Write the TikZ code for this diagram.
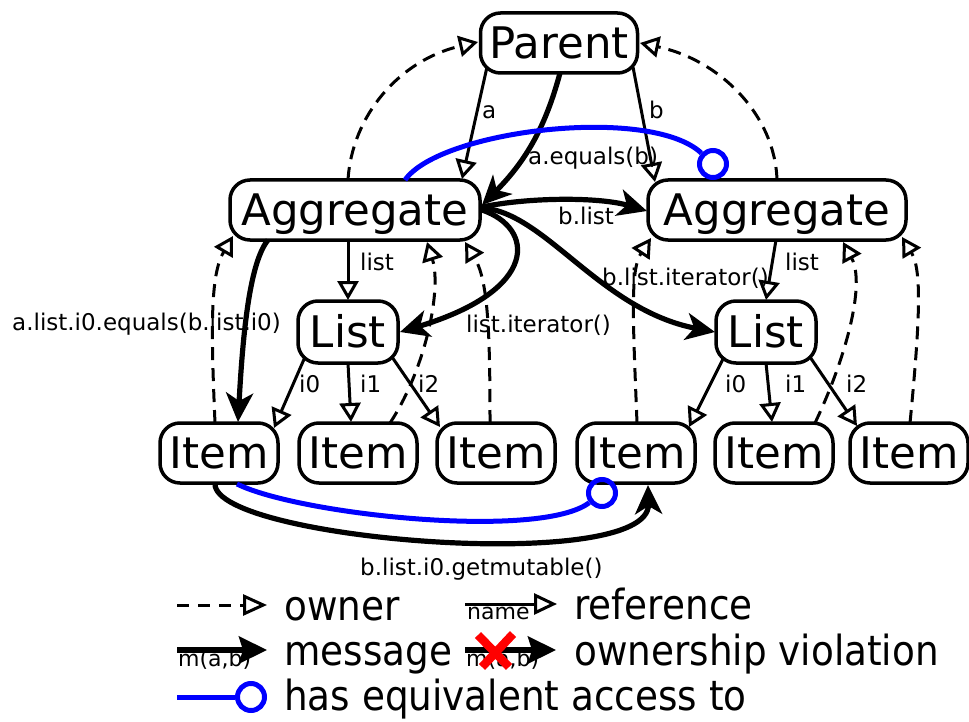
\documentclass[tikz,border=0pt]{standalone}
\usepackage{fontspec}
\setmainfont{DejaVu Sans}
\usetikzlibrary{arrows.meta,calc}

\newcommand\objfont{\fontsize{43.5}{50}\selectfont}
\newcommand\lblfont{\fontsize{23}{27}\selectfont}
\newcommand\smallfont{\fontsize{22}{26}\selectfont}
\newcommand\legfont{\fontsize{41.5}{46}\selectfont}
\newcommand\legtext[1]{\scalebox{0.9}[1]{#1}}

\tikzset{
  obj/.style={draw, line width=3.5pt, fill=white, rounded corners=20pt,
    minimum height=60pt, inner sep=0pt, text height=31pt, text depth=0pt,
    font=\objfont},
  itembox/.style={obj, minimum width=118pt},
  listbox/.style={obj, minimum width=100pt, minimum height=62pt},
  ref/.style={line width=3pt, -{Triangle[open,length=19pt,width=21pt]}},
  own/.style={line width=3pt, dash pattern=on 13pt off 8pt,
    -{Triangle[open,length=19pt,width=21pt]}},
  msg/.style={line width=5.2pt, -{Stealth[length=29pt,width=27pt,inset=8pt]}},
  equiv/.style={line width=5pt, draw=blue},
  eqend/.style={circle, draw=blue, line width=5pt, minimum size=27pt, inner sep=0pt},
  lbl/.style={font=\lblfont, inner sep=0pt, anchor=base west},
  leg/.style={font=\legfont, inner sep=0pt, anchor=base west},
}

\begin{document}
\begin{tikzpicture}[x=1pt,y=-1pt]
\useasboundingbox (0,0) rectangle (969,722);

% objects
\node[obj, minimum width=157pt] (Parent) at (559,43) {Parent};
\node[obj, minimum width=250pt] (AggL) at (355,210) {Aggregate};
\node[obj, minimum width=258pt] (AggR) at (777,210) {Aggregate};
\node[listbox] (ListL) at (348,332) {List};
\node[listbox] (ListR) at (766,332) {List};
\node[itembox] (Item1) at (219,453) {Item};
\node[itembox] (Item2) at (358,453) {Item};
\node[itembox] (Item3) at (496,453) {Item};
\node[itembox] (Item4) at (636,453) {Item};
\node[itembox] (Item5) at (774,453) {Item};
\node[itembox] (Item6) at (909,453) {Item};

% equivalence markers
\node[eqend] (eqA) at (713,164) {};
\node[eqend] (eqB) at (602,493) {};

% references
\draw[ref] ($(Parent)+(-72,24)$) -- ($(AggL)+(107,-31)$);
\draw[ref] ($(Parent)+(74,24)$) -- ($(AggR)+(-122,-28)$);
\draw[ref] ($(AggL)+(-7,30)$) -- ($(ListL)+(0,-32)$);
\draw[ref] ($(AggR)+(-1,30)$) -- ($(ListR)+(0,-32)$);
\draw[ref] ($(ListL)+(-43,25)$) -- ($(Item1)+(55,-25)$);
\draw[ref] ($(ListL)+(0,31)$) -- ($(Item2)+(-7,-31)$);
\draw[ref] ($(ListL)+(44,25)$) -- ($(Item3)+(-56,-26)$);
\draw[ref] ($(ListR)+(-42,25)$) -- ($(Item4)+(53,-26)$);
\draw[ref] ($(ListR)+(0,31)$) -- ($(Item5)+(-2,-31)$);
\draw[ref] ($(ListR)+(44,25)$) -- ($(Item6)+(-52,-27)$);

% owners
\draw[own] ($(AggL)+(-7,-30)$) .. controls (352,115) and (400,60) .. ($(Parent)+(-81,-1)$);
\draw[own] ($(AggR)+(0,-30)$) .. controls (775,115) and (720,60) .. ($(Parent)+(81,0)$);
\draw[own] ($(Item1)+(-4,-30)$) .. controls (211,330) and (210,275) .. ($(AggL)+(-122,26)$);
\draw[own] ($(Item2)+(32,-30)$) .. controls (425,370) and (442,290) .. ($(AggL)+(72,32)$);
\draw[own] ($(Item3)+(-6,-30)$) .. controls (490,330) and (488,280) .. ($(AggL)+(110,32)$);
\draw[own] ($(Item4)+(1,-30)$) .. controls (633,320) and (630,270) .. ($(AggR)+(-126,28)$);
\draw[own] ($(Item5)+(41,-30)$) .. controls (845,360) and (866,285) .. ($(AggR)+(66,32)$);
\draw[own] ($(Item6)+(1,-30)$) .. controls (920,320) and (922,270) .. ($(AggR)+(125,27)$);

% messages
\draw[msg] ($(Parent)+(1,30)$) .. controls (546,125) and (527,160) .. ($(AggL)+(127,-5)$);
\draw[msg] ($(AggL)+(127,-3)$) .. controls (530,197) and (600,197) .. ($(AggR)+(-130,1)$);
\draw[msg] ($(AggL)+(127,0)$) .. controls (535,228) and (540,290) .. ($(ListL)+(52,0)$);
\draw[msg] ($(AggL)+(127,-2)$) .. controls (545,212) and (600,310) .. ($(ListR)+(-51,0)$);
\draw[msg] ($(AggL)+(-87,30)$) .. controls (250,262) and (243,330) .. ($(Item1)+(19,-31)$);
\draw[msg] ($(Item1)+(-4,31)$) .. controls (215,540) and (650,575) .. ($(Item4)+(12,32)$);

% equivalent access
\draw[equiv] ($(AggL)+(50,-30)$) .. controls (440,130) and (650,105) .. (eqA);
\draw[equiv] ($(Item1)+(18,31)$) .. controls (300,515) and (540,540) .. (eqB);

% edge labels
\node[lbl] (la) at (482,119) {a};
\node[lbl] (lb) at (649,119) {b};
\node[lbl] (laeq) at (528,165) {a.equals(b)};
\node[lbl] (lblist) at (558,225) {b.list};
\node[lbl] (llistL) at (360,270) {list};
\node[lbl] (llistR) at (785,270) {list};
\node[lbl] (li0eq) at (12,330) {a.list.i0.equals(b.list.i0)};
\node[lbl] (liter) at (466,332) {list.iterator()};
\node[lbl] (lbiter) at (602,285) {b.list.iterator()};
\node[lbl] (li0L) at (299,392) {i0};
\node[lbl] (li1L) at (360,392) {i1};
\node[lbl] (li2L) at (418,392) {i2};
\node[lbl] (li0R) at (725,392) {i0};
\node[lbl] (li1R) at (785,392) {i1};
\node[lbl] (li2R) at (846,392) {i2};
\node[lbl] (lmut) at (360,575) {b.list.i0.getmutable()};

% legend
\coordinate (ownA) at (177,605);
\coordinate (ownB) at (267,605);
\draw[own, dash pattern=on 12pt off 9pt, -{Triangle[open,length=24pt,width=21pt]}] (ownA) -- (ownB);
\node[leg] (lgown) at (284,620) {\legtext{owner}};

\coordinate (refA) at (465,604);
\coordinate (refB) at (557,604);
\draw[ref, -{Triangle[open,length=23pt,width=21pt]}] (refA) -- (refB);
\node[lbl, font=\smallfont] (lgname) at (467,619) {name};
\node[leg] (lgref) at (574,619) {\legtext{reference}};

\coordinate (msgA) at (177,650);
\coordinate (msgB) at (267,650);
\draw[msg, -{Stealth[length=28pt,width=27pt,inset=4pt]}] (msgA) -- (msgB);
\node[lbl, font=\smallfont] (lgm1) at (178,666) {m(a,b)};
\node[leg] (lgmsg) at (284,665) {\legtext{message}};

\coordinate (vioA) at (465,650);
\coordinate (vioB) at (556,650);
\draw[msg, -{Stealth[length=28pt,width=27pt,inset=4pt]}] (vioA) -- (vioB);
\node[lbl, font=\smallfont] (lgm2) at (466,666) {m(a,b)};
\draw[red, line width=8.5pt] (478,635) -- (509,667) (513,634) -- (482,667);
\node[leg] (lgvio) at (574,665) {\legtext{ownership violation}};

\coordinate (eqlA) at (177,697);
\node[eqend] (eqlB) at (251,697) {};
\draw[equiv] (eqlA) -- (eqlB);
\node[leg] (lgeq) at (284,710) {\legtext{has equivalent access to}};
\end{tikzpicture}
\end{document}
